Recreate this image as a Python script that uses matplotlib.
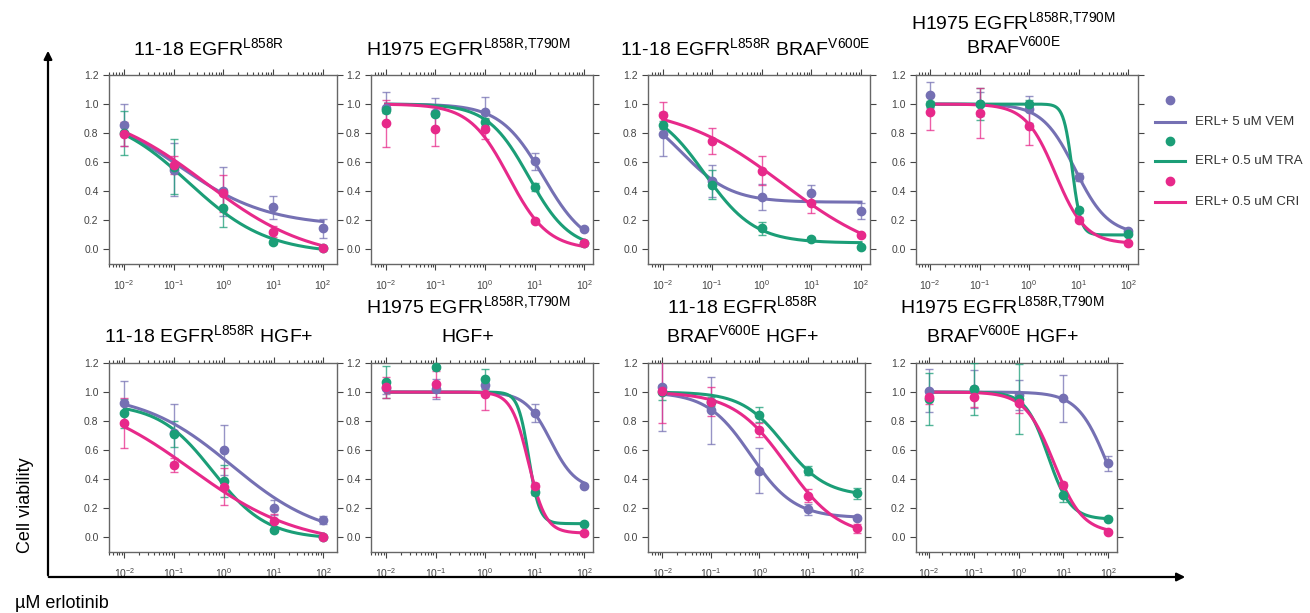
import matplotlib
matplotlib.use("Agg")
import matplotlib.pyplot as plt
import numpy as np

plt.rcParams["font.family"] = ["Liberation Sans", "DejaVu Sans"]
plt.rcParams["mathtext.fontset"] = "custom"
plt.rcParams["mathtext.rm"] = "Liberation Sans"
plt.rcParams["mathtext.default"] = "regular"

# erlotinib doses (uM)
doses = [0.01, 0.1, 1, 10, 100]

# panels: top row left->right, then bottom row left->right
titles = [
    ["11-18 EGFR$^{L858R}$"],
    ["H1975 EGFR$^{L858R{,}T790M}$"],
    ["11-18 EGFR$^{L858R}$ BRAF$^{V600E}$"],
    ["H1975 EGFR$^{L858R{,}T790M}$", "BRAF$^{V600E}$"],
    ["11-18 EGFR$^{L858R}$ HGF+"],
    ["H1975 EGFR$^{L858R{,}T790M}$", "HGF+"],
    ["11-18 EGFR$^{L858R}$", "BRAF$^{V600E}$ HGF+"],
    ["H1975 EGFR$^{L858R{,}T790M}$", "BRAF$^{V600E}$ HGF+"],
]

series_labels = ["ERL+ 5 uM VEM", "ERL+ 0.5 uM TRA", "ERL+ 0.5 uM CRI"]

vem_mean = [
    [0.855, 0.55, 0.40, 0.29, 0.146],
    [0.975, 0.94, 0.948, 0.606, 0.142],
    [0.793, 0.47, 0.363, 0.39, 0.264],
    [1.062, 1.00, 0.963, 0.498, 0.126],
    [0.924, 0.717, 0.602, 0.205, 0.12],
    [1.03, 1.02, 1.05, 0.855, 0.357],
    [1.035, 0.874, 0.46, 0.193, 0.136],
    [1.01, 1.02, 0.98, 0.956, 0.51],
]
vem_err = [
    [0.145, 0.18, 0.17, 0.08, 0.065],
    [0.105, 0.10, 0.10, 0.06, 0.01],
    [0.15, 0.11, 0.09, 0.055, 0.055],
    [0.09, 0.08, 0.09, 0.03, 0.01],
    [0.15, 0.20, 0.17, 0.05, 0.03],
    [0.04, 0.07, 0.02, 0.06, 0.01],
    [0.30, 0.23, 0.155, 0.04, 0.01],
    [0.15, 0.13, 0.10, 0.16, 0.05],
]

tra_mean = [
    [0.80, 0.57, 0.285, 0.05, 0.01],
    [0.96, 0.935, 0.877, 0.43, 0.044],
    [0.857, 0.444, 0.145, 0.07, 0.016],
    [1.003, 1.0, 1.0, 0.268, 0.108],
    [0.855, 0.71, 0.39, 0.05, 0.0],
    [1.07, 1.17, 1.09, 0.315, 0.094],
    [0.998, 0.935, 0.844, 0.46, 0.303],
    [0.953, 1.02, 0.95, 0.295, 0.128],
]
tra_err = [
    [0.15, 0.19, 0.13, 0.01, 0.01],
    [0.02, 0.02, 0.03, 0.03, 0.01],
    [0.03, 0.10, 0.045, 0.015, 0.01],
    [0.02, 0.11, 0.03, 0.02, 0.01],
    [0.10, 0.09, 0.11, 0.01, 0.005],
    [0.11, 0.01, 0.07, 0.02, 0.01],
    [0.05, 0.03, 0.05, 0.03, 0.04],
    [0.18, 0.18, 0.24, 0.05, 0.01],
]

cri_mean = [
    [0.795, 0.58, 0.385, 0.123, 0.01],
    [0.867, 0.83, 0.83, 0.197, 0.044],
    [0.924, 0.747, 0.54, 0.32, 0.099],
    [0.943, 0.94, 0.847, 0.206, 0.044],
    [0.786, 0.50, 0.35, 0.113, 0.0],
    [1.032, 1.053, 0.986, 0.356, 0.032],
    [1.005, 0.935, 0.74, 0.287, 0.062],
    [0.965, 0.965, 0.925, 0.362, 0.041],
]
cri_err = [
    [0.08, 0.06, 0.13, 0.04, 0.01],
    [0.16, 0.12, 0.07, 0.01, 0.01],
    [0.09, 0.09, 0.10, 0.07, 0.01],
    [0.12, 0.17, 0.13, 0.02, 0.01],
    [0.17, 0.05, 0.13, 0.05, 0.005],
    [0.07, 0.09, 0.11, 0.02, 0.01],
    [0.22, 0.10, 0.05, 0.045, 0.03],
    [0.05, 0.07, 0.07, 0.02, 0.01],
]

# fitted dose-response parameters: (top, bottom, EC50, hill)
vem_fit = [(1, 0.16, 0.12, 0.48), (1, 0, 15, 1.0), (1, 0.325, 0.025, 0.88), (1, 0.1, 8.5, 1.3),
           (1, -0.01, 1.45, 0.48), (1, 0.33, 21, 1.7), (1, 0.135, 0.66, 0.97), (1, 0, 97, 1.3)]
tra_fit = [(0.95, -0.03, 0.2, 0.55), (1, 0, 7.6, 1.05), (1, 0.045, 0.07, 0.86), (1, 0.1, 7.4, 5),
           (0.92, -0.01, 0.6, 0.8), (1, 0.095, 7.6, 4), (1, 0.285, 3.2, 1.0), (1, 0.125, 4.5, 1.73)]
cri_fit = [(1, -0.08, 0.43, 0.41), (1, 0, 3.0, 1.1), (1, -0.1, 2.7, 0.40), (1, 0.04, 3.4, 1.44),
           (1, -0.06, 0.22, 0.4), (1, 0.03, 7.5, 2.5), (1, 0, 3.6, 0.8), (1, 0.03, 6.1, 1.35)]

colors = ["#7570b3", "#1b9e77", "#e7298a"]

W, H = 1310, 613
fig = plt.figure(figsize=(W / 100, H / 100), dpi=100)

# panel boxes in pixels: left, right, top, bottom, x of 1e-2, x of 1e2
boxes = [
    (109, 337, 75, 264, 124, 323),
    (371, 593, 75, 264, 385.7, 584.3),
    (648, 870, 75, 264, 662.7, 861),
    (916, 1138, 75, 264, 930, 1128.3),
    (109, 337, 363, 552, 124.3, 323.3),
    (371, 593, 363, 552, 386, 584.3),
    (648, 865, 363, 552, 662.3, 856.7),
    (916, 1117, 363, 552, 929, 1108.3),
]
title_base = [[55], [55], [55], [29, 53], [342], [313, 342], [313, 342], [313, 342]]


def logistic(x, top, bottom, ec50, hill):
    return bottom + (top - bottom) / (1 + (x / ec50) ** hill)


xs = np.logspace(-2, 2, 300)
for i, (l, r, t, b, a2, b2) in enumerate(boxes):
    ax = fig.add_axes([l / W, 1 - b / H, (r - l) / W, (b - t) / H])
    ppd = (b2 - a2) / 4
    ax.set_xscale("log")
    ax.set_xlim(10 ** (-2 - (a2 - l) / ppd), 10 ** (2 + (r - b2) / ppd))
    ax.set_ylim(-0.1, 1.2)
    ax.set_xticks([0.01, 0.1, 1, 10, 100])
    ax.set_yticks(np.arange(0, 1.21, 0.2))
    ax.set_yticklabels([f"{v:.1f}" for v in np.arange(0, 1.21, 0.2)])
    ax.tick_params(which="both", direction="out", top=True, right=True,
                   labelsize=7.5, colors="#444", width=0.8)
    ax.tick_params(which="major", length=4)
    ax.tick_params(axis="x", which="major", pad=6)
    ax.tick_params(which="minor", length=2)
    for s in ax.spines.values():
        s.set_color("#666")
        s.set_linewidth(1.0)

    for k, (mean, err, fit) in enumerate([(vem_mean, vem_err, vem_fit),
                                          (tra_mean, tra_err, tra_fit),
                                          (cri_mean, cri_err, cri_fit)]):
        c = colors[k]
        ax.errorbar(doses, mean[i], yerr=err[i], fmt="none", ecolor=c, alpha=0.75,
                    elinewidth=1, capsize=3, capthick=1, zorder=2 + k)
        ax.plot(xs, logistic(xs, *fit[i]), color=c, lw=2.2, zorder=5 + k)
        ax.plot(doses, mean[i], "o", color=c, ms=6, zorder=8 + k, clip_on=False)

    cx = (l - 28 + r) / 2
    for line, yb in zip(titles[i], title_base[i]):
        fig.text(cx / W, 1 - yb / H, line, ha="center", va="baseline", fontsize=14)

# overlay in pixel coordinates for the big axis arrows and legend
ov = fig.add_axes([0, 0, 1, 1], facecolor="none")
ov.set_xlim(0, W)
ov.set_ylim(H, 0)
ov.axis("off")
ov.annotate("", xy=(48, 48), xytext=(48, 578),
            arrowprops=dict(arrowstyle="-|>", lw=1.6, color="black", mutation_scale=12))
ov.annotate("", xy=(1188, 577), xytext=(46, 577),
            arrowprops=dict(arrowstyle="-|>", lw=1.6, color="black", mutation_scale=12))
ov.text(25, 505, "Cell viability", rotation=90, ha="center", va="center", fontsize=13)
ov.text(15, 603, "µM erlotinib", ha="left", va="center", fontsize=13)

leg_dot_y = [100, 141, 181]
leg_line_y = [122, 161, 202]
for k in range(3):
    ov.plot([1170], [leg_dot_y[k]], "o", color=colors[k], ms=6)
    ov.plot([1155, 1185], [leg_line_y[k]] * 2, color=colors[k], lw=2.2)
    ov.text(1195, leg_line_y[k], series_labels[k], ha="left", va="center",
            fontsize=9.5, color="#333")

fig.savefig("out.png", dpi=100)
